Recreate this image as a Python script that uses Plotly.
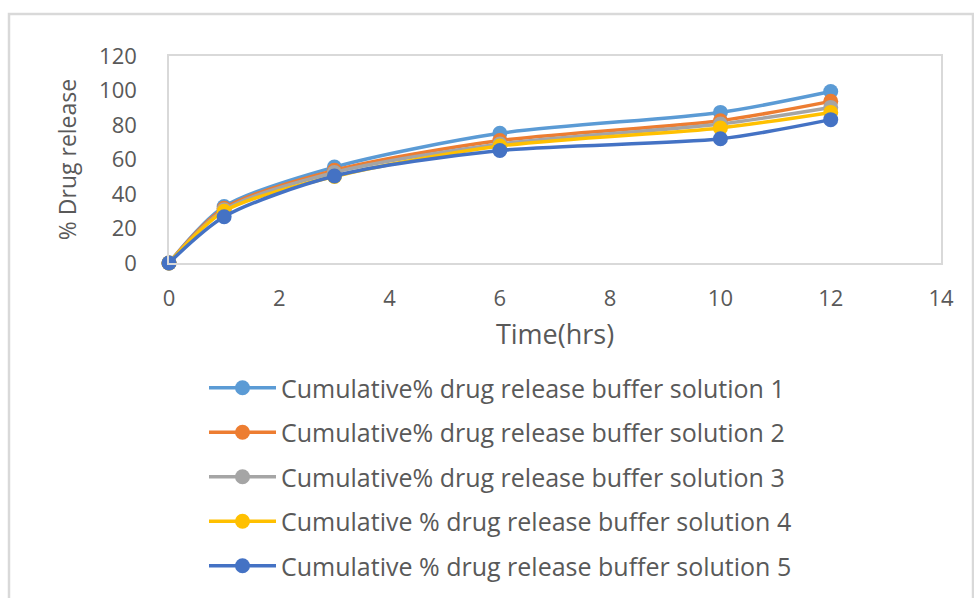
import plotly.graph_objects as go

time_hrs = [0, 1, 3, 6, 10, 12]
s1 = [0, 32.7, 55.6, 75.2, 87.3, 99.4]
s2 = [0, 31.7, 53.7, 71.0, 82.5, 93.7]
s3 = [0, 30.8, 52.5, 69.0, 80.6, 90.2]
s4 = [0, 30.0, 50.2, 67.8, 78.3, 87.3]
s5 = [0, 26.8, 50.4, 65.2, 72.0, 83.1]
names = [
    "Cumulative% drug release buffer solution 1",
    "Cumulative% drug release buffer solution 2",
    "Cumulative% drug release buffer solution 3",
    "Cumulative % drug release buffer solution 4",
    "Cumulative % drug release buffer solution 5",
]
colors = ["#5B9BD5", "#ED7D31", "#A5A5A5", "#FFC000", "#4472C4"]
series = [s1, s2, s3, s4, s5]

W, H = 974, 598
L, R, T, B = 169, 33, 56, 335
pw, ph = W - L - R, H - T - B

fig = go.Figure()
for i, (nm, c, s) in enumerate(zip(names, colors, series)):
    fig.add_trace(go.Scatter(
        x=time_hrs, y=s, name=nm, mode="lines+markers",
        line=dict(color=c, width=3.5, shape="spline", smoothing=0.8),
        marker=dict(color=c, size=15),
        cliponaxis=False, legendgroup=f"g{i}",
    ))

font = "Open Sans"
fig.update_layout(
    width=W, height=H,
    margin=dict(l=L, r=R, t=T, b=B, autoexpand=False),
    paper_bgcolor="white", plot_bgcolor="white",
    font=dict(family=font, color="#595959", size=22),
    showlegend=True,
    legend=dict(
        x=(204 - L) / pw, y=(H - B - 365) / ph, xanchor="left", yanchor="top",
        font=dict(size=25, color="#595959", family=font),
        itemwidth=67, tracegroupgap=9,
        bgcolor="rgba(0,0,0,0)",
    ),
    xaxis=dict(
        range=[0, 14], dtick=2, tick0=0, automargin=False,
        showgrid=False, zeroline=False,
        showline=True, mirror=True, linecolor="#D9D9D9", linewidth=1.5,
        ticks="", ticklabelstandoff=15,
        tickfont=dict(size=22, color="#595959"),
        title=dict(text="Time(hrs)", font=dict(size=27, color="#595959"), standoff=14),
    ),
    yaxis=dict(
        range=[0, 120], dtick=20, tick0=0, automargin=False,
        showgrid=False, zeroline=False,
        showline=True, mirror=True, linecolor="#D9D9D9", linewidth=1.5,
        ticks="", ticklabelstandoff=26,
        tickfont=dict(size=22, color="#595959"),
        title=dict(text="% Drug release", font=dict(size=23, color="#595959"), standoff=16),
    ),
    shapes=[dict(
        type="rect", xref="paper", yref="paper",
        x0=(9 - L) / pw, x1=(973 - L) / pw,
        y0=(H - B - 640) / ph, y1=(H - B - 14) / ph,
        line=dict(color="#D9D9D9", width=2.5), fillcolor="rgba(0,0,0,0)", layer="below",
    )],
)

fig.write_html("out.html")
